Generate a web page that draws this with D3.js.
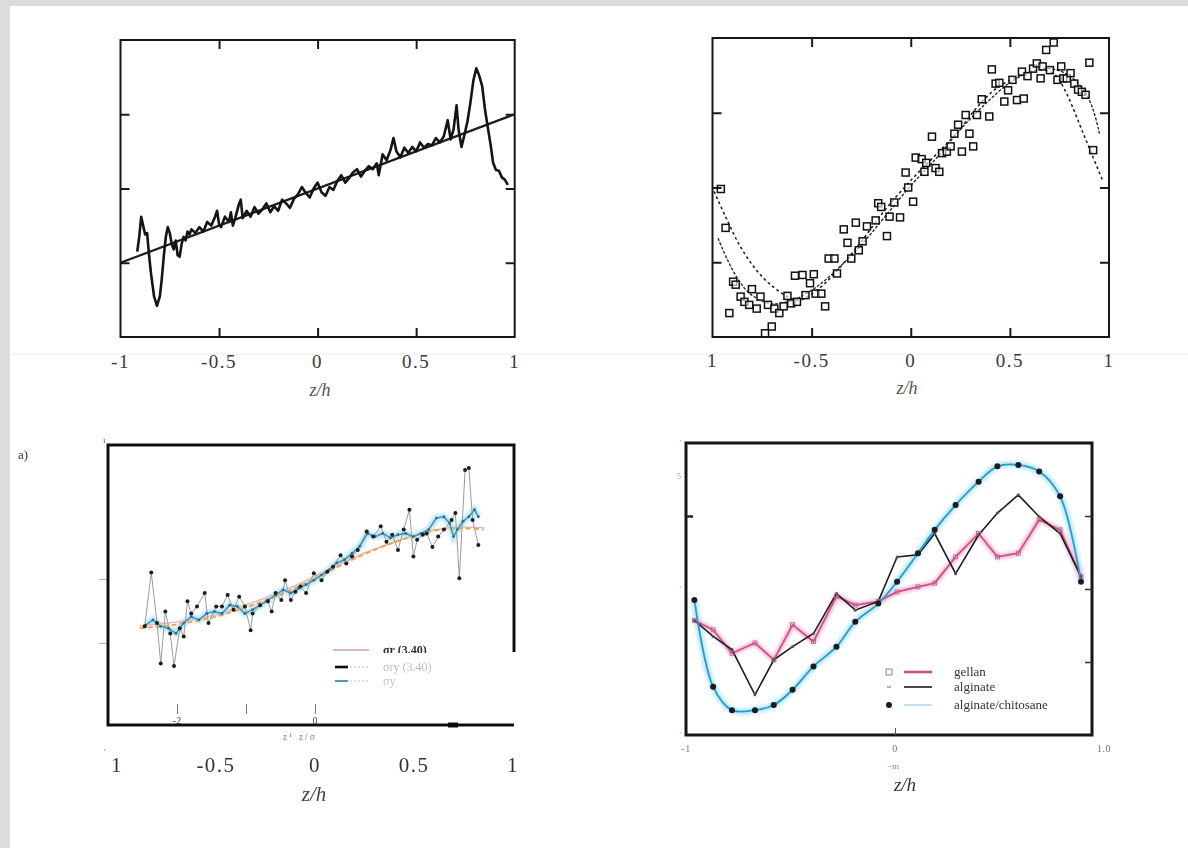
<!DOCTYPE html>
<html>
<head>
<meta charset="utf-8">
<script src="https://cdn.jsdelivr.net/npm/d3@7"></script>
<style>
  body { margin: 0; background: #fff; }
  svg { display: block; }
  text { font-family: "Liberation Serif", "DejaVu Serif", serif; }
</style>
</head>
<body>
<svg id="fig" width="1188" height="848"></svg>
<script>
// ---------- shared axis labels ----------
const xTickValues = [-1, -0.5, 0, 0.5, 1];
const xTickLabels = ["-1", "-0.5", "0", "0.5", "1"];
const xInnerTicks = [-0.5, 0, 0.5];
const yInnerTicks = [1, 2, 3];

// ---------- panel 1: measured profile and linear fit ----------
const p1Z = [-0.915,-0.905,-0.895,-0.885,-0.875,-0.865,-0.855,-0.845,-0.83,-0.815,-0.80,-0.79,-0.78,-0.77,-0.76,-0.75,-0.74,-0.73,-0.72,-0.71,-0.70,-0.69,-0.68,-0.67,-0.66,-0.65,-0.64,-0.62,-0.60,-0.58,-0.56,-0.54,-0.52,-0.51,-0.50,-0.49,-0.47,-0.45,-0.44,-0.43,-0.42,-0.40,-0.39,-0.38,-0.36,-0.34,-0.32,-0.30,-0.28,-0.26,-0.24,-0.22,-0.20,-0.18,-0.16,-0.14,-0.12,-0.10,-0.08,-0.06,-0.04,-0.02,0.00,0.02,0.04,0.06,0.08,0.10,0.12,0.14,0.16,0.18,0.20,0.22,0.24,0.26,0.28,0.30,0.31,0.33,0.35,0.37,0.385,0.40,0.42,0.44,0.46,0.48,0.50,0.52,0.54,0.56,0.58,0.60,0.62,0.64,0.66,0.675,0.69,0.705,0.715,0.73,0.745,0.76,0.775,0.79,0.805,0.82,0.835,0.85,0.865,0.88,0.89,0.905,0.92,0.935,0.95,0.965];
const p1U = [1.15,1.35,1.62,1.50,1.38,1.40,1.10,0.85,0.55,0.42,0.55,0.80,1.10,1.35,1.48,1.40,1.25,1.18,1.30,1.10,1.08,1.25,1.35,1.30,1.42,1.38,1.45,1.40,1.48,1.42,1.55,1.50,1.62,1.70,1.52,1.48,1.62,1.55,1.68,1.50,1.58,1.78,1.85,1.60,1.70,1.62,1.75,1.66,1.72,1.80,1.68,1.76,1.70,1.85,1.80,1.74,1.86,1.92,2.02,1.94,1.88,2.00,2.08,1.95,1.90,2.02,1.98,2.10,2.18,2.08,2.14,2.22,2.26,2.16,2.24,2.30,2.26,2.34,2.18,2.46,2.38,2.52,2.68,2.50,2.42,2.55,2.48,2.56,2.50,2.62,2.55,2.60,2.58,2.68,2.62,2.70,2.92,2.66,2.80,3.12,2.80,2.56,2.72,2.90,3.15,3.45,3.62,3.52,3.38,3.05,2.80,2.55,2.35,2.25,2.24,2.15,2.12,2.05];
const p1FitZ = [-1, 1];
const p1FitU = [1, 3];

// ---------- panel 2: scattered samples with two model curves ----------
const p2SqZ = [-0.958,-0.934,-0.915,-0.896,-0.883,-0.858,-0.839,-0.815,-0.801,-0.777,-0.758,-0.735,-0.720,-0.701,-0.688,-0.663,-0.641,-0.622,-0.603,-0.584,-0.574,-0.546,-0.531,-0.508,-0.489,-0.480,-0.451,-0.432,-0.414,-0.385,-0.372,-0.338,-0.319,-0.300,-0.277,-0.262,-0.243,-0.221,-0.177,-0.164,-0.149,-0.120,-0.107,-0.083,-0.054,-0.026,-0.013,0.012,0.025,0.055,0.069,0.078,0.107,0.125,0.144,0.158,0.182,0.201,0.220,0.239,0.258,0.277,0.296,0.315,0.334,0.358,0.396,0.409,0.428,0.447,0.472,0.491,0.513,0.536,0.561,0.570,0.589,0.617,0.636,0.655,0.665,0.683,0.702,0.721,0.740,0.759,0.769,0.787,0.806,0.825,0.844,0.863,0.882,0.901,0.920];
const p2SqU = [1.98,1.46,0.32,0.74,0.70,0.54,0.47,0.43,0.64,0.38,0.54,0.05,0.43,0.14,0.38,0.32,0.41,0.55,0.45,0.82,0.47,0.83,0.56,0.72,0.84,0.58,0.58,0.41,1.05,1.05,0.85,1.44,1.26,1.05,1.53,1.16,1.28,1.48,1.56,1.79,1.74,1.35,1.61,1.80,1.60,2.20,2.00,1.81,2.40,2.38,2.21,2.33,2.68,2.26,2.21,2.46,2.48,2.55,2.72,2.84,2.48,2.97,2.72,2.55,2.97,3.18,2.95,3.58,3.39,3.40,3.15,3.30,3.44,3.17,3.55,3.19,3.49,3.59,3.66,3.46,3.62,3.84,3.57,3.94,3.44,3.62,3.46,3.46,3.53,3.39,3.31,3.28,3.24,3.67,2.50];
const p2SolidZ = [-0.972,-0.924,-0.868,-0.811,-0.716,-0.622,-0.527,-0.432,-0.338,-0.243,-0.130,0.002,0.135,0.248,0.381,0.494,0.608,0.702,0.797,0.873,0.920,0.952];
const p2SolidU = [1.32,1.03,0.76,0.58,0.45,0.47,0.58,0.76,0.99,1.25,1.61,2.03,2.41,2.77,3.13,3.39,3.55,3.59,3.50,3.30,3.04,2.72];
const p2DotZ = [-0.991,-0.934,-0.868,-0.792,-0.716,-0.622,-0.565,-0.508,-0.432,-0.338,-0.243,-0.130,0.002,0.135,0.229,0.324,0.419,0.513,0.608,0.674,0.731,0.778,0.816,0.863,0.911,0.967];
const p2DotU = [1.94,1.61,1.25,0.94,0.72,0.54,0.49,0.56,0.72,0.99,1.30,1.70,2.10,2.46,2.72,3.04,3.30,3.45,3.55,3.57,3.50,3.30,3.08,2.77,2.46,2.10];

// ---------- panel 3: stress profiles ----------
const p3PtsZ = [-0.860,-0.827,-0.798,-0.779,-0.756,-0.731,-0.712,-0.683,-0.663,-0.644,-0.625,-0.596,-0.557,-0.538,-0.499,-0.470,-0.441,-0.412,-0.383,-0.354,-0.325,-0.315,-0.277,-0.238,-0.219,-0.199,-0.170,-0.151,-0.122,-0.099,-0.074,-0.045,-0.006,0.033,0.062,0.091,0.129,0.158,0.187,0.216,0.261,0.294,0.332,0.361,0.390,0.419,0.448,0.477,0.497,0.516,0.545,0.564,0.593,0.622,0.651,0.690,0.709,0.729,0.758,0.777,0.796,0.825];
const p3PtsV = [0.26,1.10,0.31,-0.32,0.49,0.15,-0.36,0.23,0.10,0.65,0.46,0.57,0.78,0.31,0.57,0.57,0.75,0.52,0.72,0.57,0.20,0.46,0.59,0.65,0.49,0.78,0.67,0.98,0.67,0.80,0.88,0.78,1.09,0.98,1.11,1.19,1.37,1.24,1.35,1.45,1.74,1.66,1.82,1.58,1.69,1.45,1.77,2.08,1.35,1.61,1.69,1.71,1.50,1.66,1.77,1.92,2.03,1.01,2.70,2.73,1.92,1.53];
const p3BlueZ = [-0.856,-0.818,-0.779,-0.740,-0.702,-0.663,-0.625,-0.586,-0.547,-0.508,-0.470,-0.431,-0.392,-0.354,-0.315,-0.277,-0.238,-0.199,-0.161,-0.122,-0.083,-0.045,-0.006,0.033,0.071,0.110,0.149,0.187,0.226,0.265,0.303,0.342,0.381,0.419,0.458,0.497,0.535,0.574,0.613,0.651,0.680,0.700,0.719,0.748,0.777,0.806,0.825];
const p3BlueV = [0.28,0.36,0.26,0.23,0.15,0.31,0.41,0.36,0.46,0.49,0.46,0.59,0.57,0.46,0.52,0.59,0.67,0.75,0.83,0.78,0.85,0.91,0.98,1.06,1.14,1.25,1.30,1.40,1.51,1.71,1.66,1.71,1.64,1.69,1.71,1.66,1.71,1.77,1.95,1.97,1.87,1.66,1.77,1.90,1.97,2.08,1.97];
const p3FitZ = [-0.885,-0.721,-0.528,-0.335,-0.141,0.052,0.245,0.439,0.632,0.748,0.854];
const p3FitV = [0.23,0.28,0.39,0.57,0.80,1.09,1.38,1.61,1.77,1.79,1.77];
const p3RefZ = [-0.885,-0.528,-0.141,0.245,0.632,0.854];
const p3RefV = [0.27,0.42,0.84,1.40,1.78,1.80];
const p3SigTicks = [-2, -1, 0, 2];
const p3SigLabels = ["-2", "", "0", ""];
const p3LegendLabels = ["σr (3.40)", "σry (3.40)", "σy"];

// ---------- panel 4: three hydrogels ----------
const p4Z = [-0.96,-0.87,-0.78,-0.67,-0.58,-0.49,-0.39,-0.28,-0.19,-0.08,0.01,0.11,0.19,0.29,0.40,0.49,0.59,0.69,0.79,0.89];
const p4Gellan = [1.57,1.44,1.12,1.26,1.03,1.51,1.28,1.90,1.78,1.83,1.96,2.03,2.08,2.44,2.76,2.44,2.49,2.95,2.81,2.17];
const p4Alginate = [1.57,1.35,1.17,0.55,1.03,1.21,1.39,1.94,1.71,1.83,2.44,2.47,2.76,2.21,2.74,3.04,3.29,2.99,2.76,2.17];
const p4Chitosan = [1.85,0.66,0.34,0.34,0.41,0.62,0.94,1.21,1.55,1.80,2.10,2.49,2.81,3.15,3.47,3.68,3.70,3.61,3.27,2.10];
const p4TickValues = [-1, 0, 1];
const p4TickLabels = ["-1", "0", "1.0"];
const p4LegendLabels = ["gellan", "alginate", "alginate/chitosane"];

// ================= drawing =================
const svg = d3.select("#fig");
const defs = svg.append("defs");
defs.append("filter").attr("id", "soft").attr("x", "-5%").attr("y", "-5%").attr("width", "110%").attr("height", "110%")
  .append("feGaussianBlur").attr("stdDeviation", 0.55);
defs.append("filter").attr("id", "glow").append("feGaussianBlur").attr("stdDeviation", 1.6);

svg.append("rect").attr("width", 1188).attr("height", 848).attr("fill", "#fff");
svg.append("rect").attr("x", 0).attr("y", 0).attr("width", 10).attr("height", 848).attr("fill", "#dcdcdc");
svg.append("rect").attr("x", 0).attr("y", 0).attr("width", 1188).attr("height", 6).attr("fill", "#dcdcdc");
svg.append("line").attr("x1", 10).attr("x2", 1188).attr("y1", 354).attr("y2", 354)
  .attr("stroke", "#ececec").attr("stroke-width", 1);

function styleAxis(sel, color, width) {
  sel.select(".domain").remove();
  sel.selectAll(".tick line").attr("stroke", color).attr("stroke-width", width);
}

function drawFrame(g, b, sw) {
  g.append("rect").attr("x", b.x0).attr("y", b.y0).attr("width", b.x1 - b.x0).attr("height", b.y1 - b.y0)
    .attr("fill", "none").attr("stroke", "#161616").attr("stroke-width", sw);
}

function innerTicks(g, x, y, b, xt, yt, len, color, w) {
  styleAxis(g.append("g").attr("transform", `translate(0,${b.y1})`)
    .call(d3.axisBottom(x).tickValues(xt).tickSize(-len).tickFormat("")), color, w);
  styleAxis(g.append("g").attr("transform", `translate(0,${b.y0})`)
    .call(d3.axisTop(x).tickValues(xt).tickSize(-len).tickFormat("")), color, w);
  styleAxis(g.append("g").attr("transform", `translate(${b.x0},0)`)
    .call(d3.axisLeft(y).tickValues(yt).tickSize(-len).tickFormat("")), color, w);
  styleAxis(g.append("g").attr("transform", `translate(${b.x1},0)`)
    .call(d3.axisRight(y).tickValues(yt).tickSize(-len).tickFormat("")), color, w);
}

function tickLabels(g, x, vals, labels, yPos, size, color, spacing) {
  g.selectAll(null).data(vals).join("text")
    .attr("x", d => x(d)).attr("y", yPos)
    .attr("text-anchor", "middle")
    .attr("font-size", size).attr("fill", color)
    .attr("letter-spacing", spacing)
    .text((d, i) => labels[i]);
}

function axisTitle(g, xPos, yPos, size, color) {
  g.append("text").attr("x", xPos).attr("y", yPos).attr("text-anchor", "middle")
    .attr("font-size", size).attr("font-style", "italic").attr("fill", color).text("z/h");
}

// ---------- panel 1 ----------
{
  const b = { x0: 120.5, x1: 514.7, y0: 40, y1: 337 };
  const g = svg.append("g");
  const x = d3.scaleLinear().domain([-1, 1]).range([b.x0, b.x1]);
  const y = d3.scaleLinear().domain([0, 4]).range([b.y1, b.y0]);
  const line = d3.line().x(d => x(d[0])).y(d => y(d[1]));
  g.append("path").datum(d3.zip(p1FitZ, p1FitU)).attr("d", line)
    .attr("fill", "none").attr("stroke", "#1c1c1c").attr("stroke-width", 2.2);
  g.append("path").datum(d3.zip(p1Z, p1U)).attr("d", line)
    .attr("fill", "none").attr("stroke", "#141414").attr("stroke-width", 2.6).attr("stroke-linejoin", "round");
  drawFrame(g, b, 2);
  innerTicks(g, x, y, b, xInnerTicks, yInnerTicks, 9, "#1a1a1a", 2);
  tickLabels(g, x, xTickValues, xTickLabels, 368, 19, "#3a3a3a", 1.5);
  axisTitle(g, 320, 396, 18, "#555");
}

// ---------- panel 2 ----------
{
  const b = { x0: 712.5, x1: 1109, y0: 38, y1: 337 };
  const g = svg.append("g");
  const x = d3.scaleLinear().domain([-1, 1]).range([b.x0, b.x1]);
  const y = d3.scaleLinear().domain([0, 4]).range([b.y1, b.y0]);
  const line = d3.line().x(d => x(d[0])).y(d => y(d[1])).curve(d3.curveCatmullRom);
  g.append("path").datum(d3.zip(p2DotZ, p2DotU)).attr("d", line)
    .attr("fill", "none").attr("stroke", "#222").attr("stroke-width", 1.6)
    .attr("stroke-dasharray", "1.4,4.2").attr("stroke-linecap", "round");
  g.append("path").datum(d3.zip(p2SolidZ, p2SolidU)).attr("d", line)
    .attr("fill", "none").attr("stroke", "#222").attr("stroke-width", 1.3)
    .attr("stroke-dasharray", "3,1.6");
  g.selectAll(null).data(d3.zip(p2SqZ, p2SqU)).join("rect")
    .attr("x", d => x(d[0]) - 3.5).attr("y", d => y(d[1]) - 3.5)
    .attr("width", 7).attr("height", 7)
    .attr("fill", "#fff").attr("fill-opacity", 0.6)
    .attr("stroke", "#111").attr("stroke-width", 1.5);
  drawFrame(g, b, 2);
  innerTicks(g, x, y, b, xInnerTicks, yInnerTicks, 9, "#1a1a1a", 2);
  tickLabels(g, x, xTickValues, ["1", "-0.5", "0", "0.5", "1"], 367, 19, "#3a3a3a", 1.5);
  axisTitle(g, 907, 394, 18, "#555");
}

// ---------- panel 3 ----------
{
  const b = { x0: 108, x1: 514, y0: 445, y1: 725 };
  const g = svg.append("g").attr("filter", "url(#soft)");
  const x = d3.scaleLinear().domain([-1, 1]).range([117, 513]);
  const y = d3.scaleLinear().domain([-1.28, 3.09]).range([b.y1, b.y0]);
  const xs = d3.scaleLinear().domain([-2, 0]).range([177, 315]);
  const line = d3.line().x(d => x(d[0])).y(d => y(d[1]));
  const smooth = d3.line().x(d => x(d[0])).y(d => y(d[1])).curve(d3.curveCatmullRom);

  g.append("path").datum(d3.zip(p3BlueZ, p3BlueV)).attr("d", line)
    .attr("fill", "none").attr("stroke", "#bfe6f3").attr("stroke-width", 7).attr("filter", "url(#glow)");
  g.append("path").datum(d3.zip(p3RefZ, p3RefV)).attr("d", smooth)
    .attr("fill", "none").attr("stroke", "#eab4b4").attr("stroke-width", 1.4);
  g.append("path").datum(d3.zip(p3PtsZ, p3PtsV)).attr("d", line)
    .attr("fill", "none").attr("stroke", "#9a9a9a").attr("stroke-width", 1);
  g.append("path").datum(d3.zip(p3FitZ, p3FitV)).attr("d", smooth)
    .attr("fill", "none").attr("stroke", "#f0a04a").attr("stroke-width", 1.8).attr("stroke-dasharray", "5,3");
  g.append("path").datum(d3.zip(p3BlueZ, p3BlueV)).attr("d", line)
    .attr("fill", "none").attr("stroke", "#3b98c4").attr("stroke-width", 1.6);
  g.selectAll(null).data(d3.zip(p3BlueZ, p3BlueV)).join("circle")
    .attr("cx", d => x(d[0])).attr("cy", d => y(d[1])).attr("r", 1.4).attr("fill", "#2a6f90");
  g.selectAll(null).data(d3.zip(p3PtsZ, p3PtsV)).join("circle")
    .attr("cx", d => x(d[0])).attr("cy", d => y(d[1])).attr("r", 2).attr("fill", "#1d1d1d");

  // faint left ticks
  styleAxis(g.append("g").attr("transform", `translate(${b.x0 - 2},0)`)
    .call(d3.axisLeft(y).tickValues([0, 1]).tickSize(7).tickFormat("")), "#aaa", 1);
  g.append("text").attr("x", 103).attr("y", 443).attr("font-size", 9).attr("fill", "#555").text("ı");

  // normalized coordinate axis inside the frame
  styleAxis(g.append("g").attr("transform", `translate(0,714)`)
    .call(d3.axisBottom(xs).tickValues(p3SigTicks.slice(0, 3)).tickSize(-10).tickFormat("")), "#777", 1);
  g.selectAll(null).data(p3SigTicks).join("text")
    .attr("x", d => xs(d)).attr("y", 724).attr("text-anchor", "middle")
    .attr("font-size", 10).attr("fill", "#444").text((d, i) => p3SigLabels[i]);
  g.append("text").attr("x", 300).attr("y", 740).attr("text-anchor", "middle")
    .attr("font-size", 10).attr("fill", "#888").attr("letter-spacing", 2).text("z¹  z/σ");

  // legend
  const lx0 = 333, lx1 = 369, ly = [650, 667, 681];
  g.append("line").attr("x1", lx0).attr("x2", lx1).attr("y1", ly[0]).attr("y2", ly[0])
    .attr("stroke", "#c9a3a3").attr("stroke-width", 1.5);
  g.append("text").attr("x", 383).attr("y", ly[0] + 4).attr("font-size", 12).attr("font-weight", "bold")
    .attr("fill", "#333").text(p3LegendLabels[0]);
  g.append("line").attr("x1", lx0 + 2).attr("x2", 350).attr("y1", ly[1]).attr("y2", ly[1])
    .attr("stroke", "#111").attr("stroke-width", 2.6);
  g.append("line").attr("x1", lx0 + 2).attr("x2", 350).attr("y1", ly[2]).attr("y2", ly[2])
    .attr("stroke", "#4a9fb5").attr("stroke-width", 2);
  // white patch over the lower right corner
  g.append("rect").attr("x", 348).attr("y", 653).attr("width", 168).attr("height", 69).attr("fill", "#fff");
  g.append("line").attr("x1", 350).attr("x2", 368).attr("y1", ly[1]).attr("y2", ly[1])
    .attr("stroke", "#bbb").attr("stroke-width", 1).attr("stroke-dasharray", "2,2");
  g.append("line").attr("x1", 350).attr("x2", 368).attr("y1", ly[2]).attr("y2", ly[2])
    .attr("stroke", "#c8c8c8").attr("stroke-width", 1).attr("stroke-dasharray", "2,2");
  g.append("text").attr("x", 383).attr("y", ly[1] + 4).attr("font-size", 12).attr("fill", "#bcbcbc").text(p3LegendLabels[1]);
  g.append("text").attr("x", 383).attr("y", ly[2] + 4).attr("font-size", 12).attr("fill", "#c4c4c4").text(p3LegendLabels[2]);

  // frame (right side interrupted by the patch)
  g.append("path").attr("d", `M${b.x1},652 L${b.x1},${b.y0} L${b.x0},${b.y0} L${b.x0},${b.y1} L${b.x1},${b.y1}`)
    .attr("fill", "none").attr("stroke", "#111").attr("stroke-width", 3);
  g.append("line").attr("x1", xs(2) - 5).attr("x2", xs(2) + 5).attr("y1", b.y1).attr("y2", b.y1)
    .attr("stroke", "#111").attr("stroke-width", 5);

  g.append("text").attr("x", 18).attr("y", 459).attr("font-size", 13).attr("fill", "#333").text("a)");
  tickLabels(g, x, xTickValues, ["1", "-0.5", "0", "0.5", "1"], 772, 21, "#333", 1.5);
  g.append("text").attr("x", 103).attr("y", 757).attr("font-size", 10).attr("fill", "#666").text("ˈ");
  axisTitle(g, 314, 801, 21, "#444");
}

// ---------- panel 4 ----------
{
  const b = { x0: 686, x1: 1092, y0: 443, y1: 735 };
  const g = svg.append("g").attr("filter", "url(#soft)");
  const x = d3.scaleLinear().domain([-1, 1]).range([686, 1104]);
  const y = d3.scaleLinear().domain([0, 4]).range([b.y1, b.y0]);
  const line = d3.line().x(d => x(d[0])).y(d => y(d[1]));
  const smooth = d3.line().x(d => x(d[0])).y(d => y(d[1])).curve(d3.curveCatmullRom);

  g.append("path").datum(d3.zip(p4Z, p4Chitosan)).attr("d", smooth)
    .attr("fill", "none").attr("stroke", "#bfeaf6").attr("stroke-width", 7).attr("filter", "url(#glow)");
  g.append("path").datum(d3.zip(p4Z, p4Gellan)).attr("d", line)
    .attr("fill", "none").attr("stroke", "#f3c2d8").attr("stroke-width", 6).attr("filter", "url(#glow)");
  g.append("path").datum(d3.zip(p4Z, p4Gellan)).attr("d", line)
    .attr("fill", "none").attr("stroke", "#d0508c").attr("stroke-width", 1.8);
  g.append("path").datum(d3.zip(p4Z, p4Alginate)).attr("d", line)
    .attr("fill", "none").attr("stroke", "#1e1e1e").attr("stroke-width", 1.6);
  g.append("path").datum(d3.zip(p4Z, p4Chitosan)).attr("d", smooth)
    .attr("fill", "none").attr("stroke", "#2a9ccc").attr("stroke-width", 1.8);
  g.selectAll(null).data(d3.zip(p4Z, p4Gellan)).join("rect")
    .attr("x", d => x(d[0]) - 2).attr("y", d => y(d[1]) - 2).attr("width", 4).attr("height", 4)
    .attr("fill", "none").attr("stroke", "#b06088").attr("stroke-width", 0.8);
  g.selectAll(null).data(d3.zip(p4Z, p4Alginate)).join("circle")
    .attr("cx", d => x(d[0])).attr("cy", d => y(d[1])).attr("r", 1.5).attr("fill", "#555");
  g.selectAll(null).data(d3.zip(p4Z, p4Chitosan)).join("circle")
    .attr("cx", d => x(d[0])).attr("cy", d => y(d[1])).attr("r", 3).attr("fill", "#1b1b1b");

  drawFrame(g, b, 3);
  styleAxis(g.append("g").attr("transform", `translate(${b.x1},0)`)
    .call(d3.axisRight(y).tickValues(yInnerTicks).tickSize(-7).tickFormat("")), "#333", 1.5);
  styleAxis(g.append("g").attr("transform", `translate(${b.x0},0)`)
    .call(d3.axisLeft(y).tickValues([3]).tickSize(-7).tickFormat("")), "#222", 2.5);
  styleAxis(g.append("g").attr("transform", `translate(0,${b.y1})`)
    .call(d3.axisBottom(x).tickValues([0]).tickSize(-7).tickFormat("")), "#555", 1);
  g.selectAll(null).data([4, 3.55, 2, 0]).join("text")
    .attr("x", 681).attr("y", d => y(d) + 3).attr("text-anchor", "end")
    .attr("font-size", 8).attr("fill", "#999").text(d => d === 3.55 ? "5" : "'");

  tickLabels(g, x, p4TickValues, p4TickLabels, 752, 10, "#777", 0.5);
  g.append("text").attr("x", 893).attr("y", 769).attr("text-anchor", "middle")
    .attr("font-size", 9).attr("fill", "#888").text("−m");
  axisTitle(g, 905, 791, 19, "#333");

  // legend
  const ly = [672, 687, 705];
  g.append("rect").attr("x", 886).attr("y", ly[0] - 3).attr("width", 6).attr("height", 6)
    .attr("fill", "none").attr("stroke", "#888").attr("stroke-width", 1);
  g.append("line").attr("x1", 887).attr("x2", 891).attr("y1", ly[1]).attr("y2", ly[1])
    .attr("stroke", "#999").attr("stroke-width", 1.5);
  g.append("circle").attr("cx", 889).attr("cy", ly[2]).attr("r", 3).attr("fill", "#1b1b1b");
  g.append("line").attr("x1", 904).attr("x2", 932).attr("y1", ly[0]).attr("y2", ly[0])
    .attr("stroke", "#d0508c").attr("stroke-width", 2.6);
  g.append("line").attr("x1", 904).attr("x2", 932).attr("y1", ly[1]).attr("y2", ly[1])
    .attr("stroke", "#1e1e1e").attr("stroke-width", 1.6);
  g.append("line").attr("x1", 904).attr("x2", 932).attr("y1", ly[2]).attr("y2", ly[2])
    .attr("stroke", "#8fcfe2").attr("stroke-width", 1.2);
  g.selectAll(null).data(p4LegendLabels).join("text")
    .attr("x", 954).attr("y", (d, i) => ly[i] + 4)
    .attr("font-size", 13).attr("fill", "#333").text(d => d);
}
</script>
</body>
</html>
